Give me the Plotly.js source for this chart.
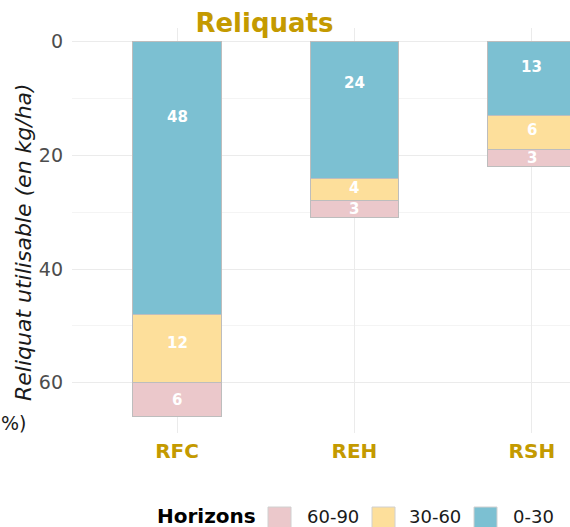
<!DOCTYPE html>
<html><head><meta charset="utf-8">
<script src="https://cdn.plot.ly/plotly-3.0.1.min.js"></script>
<style>html,body{margin:0;padding:0;overflow:hidden;background:#fff}</style>
</head><body><div id="chart" style="width:570px;height:527px"></div>
<script>
const categories = ['RFC', 'REH', 'RSH'];
const v0_30 = [48, 24, 13];
const v30_60 = [12, 4, 6];
const v60_90 = [6, 3, 3];
const seriesNames = ['0-30', '30-60', '60-90'];
const seriesColors = ['#7CC0D2', '#FDDF9B', '#EBC8CB'];
const legendOrder = [2, 1, 0];
const yTicks = [0, 20, 40, 60];

const W = 570, H = 527, L = 72, R = 0, T = 28, B = 94;
const pw = W - L - R, ph = H - T - B;
const px = x => (x - L) / pw;
const py = y => (H - B - y) / ph;

const series = [v0_30, v30_60, v60_90];
const traces = series.map((vals, k) => ({
  type: 'bar', x: categories, y: vals, name: seriesNames[k], width: 0.5,
  marker: {color: seriesColors[k], line: {color: '#BDBDBD', width: 1}},
  hoverinfo: 'x+y+name', showlegend: false
}));

const annotations = [];
const lblFont = {family: 'DejaVu Sans', size: 15, color: '#ffffff', weight: 'bold'};
categories.forEach((c, i) => {
  annotations.push({x: c, y: v0_30[i] * 0.25 + 1.2, xref: 'x', yref: 'y', text: '<b>' + v0_30[i] + '</b>', showarrow: false, font: lblFont});
  annotations.push({x: c, y: v0_30[i] + v30_60[i] * 0.42, xref: 'x', yref: 'y', text: '<b>' + v30_60[i] + '</b>', showarrow: false, font: lblFont});
  annotations.push({x: c, y: v0_30[i] + v30_60[i] + v60_90[i] / 2, xref: 'x', yref: 'y', text: '<b>' + v60_90[i] + '</b>', showarrow: false, font: lblFont});
});

// y axis title placed to match the reference
annotations.push({xref: 'paper', yref: 'paper', x: px(24), y: py(242), xanchor: 'center', yanchor: 'middle', textangle: -90,
  text: '<i>Reliquat utilisable (en kg/ha)</i>', showarrow: false, borderpad: 0,
  font: {family: 'DejaVu Sans', size: 22, color: '#1a1a1a'}});

// manual legend
const shapes = [];
const legY = 516;
annotations.push({xref: 'paper', yref: 'paper', x: px(156), y: py(legY), xanchor: 'left', yanchor: 'middle', borderpad: 0,
  text: '<b>Horizons</b>', showarrow: false, font: {family: 'DejaVu Sans', size: 20, color: '#000000'}});
const swX = [268, 372, 474];
const txX = [306, 408, 512];
legendOrder.forEach((k, j) => {
  shapes.push({type: 'rect', xref: 'paper', yref: 'paper', x0: px(swX[j]), x1: px(swX[j] + 23), y0: py(507), y1: py(531),
    fillcolor: seriesColors[k], line: {color: '#D0D0D0', width: 1}, layer: 'above'});
  annotations.push({xref: 'paper', yref: 'paper', x: px(txX[j]), y: py(legY), xanchor: 'left', yanchor: 'middle', borderpad: 0,
    text: seriesNames[k], showarrow: false, font: {family: 'DejaVu Sans', size: 18, color: '#1a1a1a'}});
});
// fragment of neighbouring chart text
annotations.push({xref: 'paper', yref: 'paper', x: px(-1), y: py(423), xanchor: 'left', yanchor: 'middle',
  text: '%)', showarrow: false, font: {family: 'DejaVu Sans', size: 19, color: '#1a1a1a'}});

const layout = {
  width: W, height: H,
  margin: {l: L, r: R, t: T, b: B, pad: 0},
  paper_bgcolor: '#ffffff', plot_bgcolor: '#ffffff',
  barmode: 'stack',
  title: {text: '<b>Reliquats</b>', xref: 'container', yref: 'container', x: 264.5 / W, xanchor: 'center',
    y: 1 - 14 / H, yanchor: 'top', font: {family: 'DejaVu Sans', size: 26, color: '#C49A00'}},
  xaxis: {type: 'category', range: [-0.592, 2.215], showgrid: true, gridcolor: '#EBEBEB', gridwidth: 1,
    showline: false, zeroline: false, ticks: '', ticklabelstandoff: 4,
    tickfont: {family: 'DejaVu Sans', size: 20, color: '#C49A00', weight: 'bold'}},
  yaxis: {range: [68.86, -2.41], tickvals: yTicks, showgrid: true, gridcolor: '#EBEBEB', gridwidth: 1,
    minor: {dtick: 10, tick0: 0, showgrid: true, gridcolor: '#F4F4F4', gridwidth: 1},
    zeroline: false, showline: false, ticks: '', ticklabelstandoff: 8,
    tickfont: {family: 'DejaVu Sans', size: 19, color: '#4D4D4D'}},
  annotations: annotations, shapes: shapes, showlegend: false
};
Plotly.newPlot('chart', traces, layout, {displayModeBar: false, staticPlot: true});
</script></body></html>
